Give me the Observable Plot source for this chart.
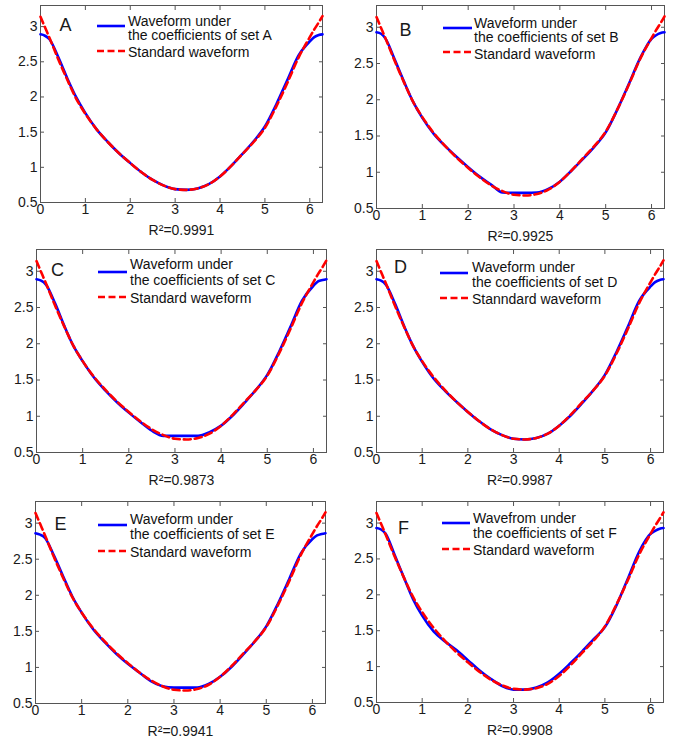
<!DOCTYPE html>
<html><head><meta charset="utf-8">
<script src="https://cdn.jsdelivr.net/npm/d3@7"></script>
<script src="https://cdn.jsdelivr.net/npm/@observablehq/plot@0.6"></script>
<style>
body{margin:0;background:#fff;font-family:"Liberation Sans",Arial,sans-serif;}
#root{position:relative;width:681px;height:745px;overflow:hidden;background:#fff;}
.panel{position:absolute;}
.lt{position:absolute;font-size:14px;line-height:12px;height:12px;color:#111;white-space:nowrap;}
.sw{position:absolute;overflow:visible;}
</style></head><body><div id="root"></div>
<script>
// ---- data ----
const xValues = [0, 0.1, 0.2, 0.4, 0.6, 0.8, 1.0, 1.25, 1.5, 1.75, 2.0, 2.25, 2.5, 2.75, 3.0, 3.25, 3.5, 3.75, 4.0, 4.25, 4.5, 4.75, 5.0, 5.25, 5.5, 5.75, 6.0, 6.1, 6.2, 6.283];
const standardWave = [3.14, 2.99, 2.84, 2.53, 2.24, 1.97, 1.76, 1.54, 1.36, 1.20, 1.06, 0.93, 0.82, 0.74, 0.69, 0.68, 0.70, 0.76, 0.87, 1.02, 1.19, 1.36, 1.56, 1.86, 2.20, 2.56, 2.85, 2.96, 3.06, 3.15];
const waveA = [2.89, 2.87, 2.82, 2.56, 2.26, 1.99, 1.77, 1.54, 1.36, 1.20, 1.06, 0.93, 0.82, 0.74, 0.69, 0.68, 0.70, 0.76, 0.87, 1.02, 1.19, 1.37, 1.58, 1.89, 2.24, 2.59, 2.79, 2.85, 2.88, 2.89];
const waveB = [2.93, 2.91, 2.84, 2.55, 2.25, 1.97, 1.75, 1.53, 1.36, 1.21, 1.07, 0.94, 0.83, 0.72, 0.715, 0.715, 0.72, 0.77, 0.87, 1.02, 1.18, 1.35, 1.55, 1.86, 2.21, 2.57, 2.84, 2.89, 2.92, 2.93];
const waveC = [2.89, 2.87, 2.82, 2.56, 2.25, 1.97, 1.76, 1.53, 1.35, 1.19, 1.05, 0.92, 0.80, 0.73, 0.73, 0.73, 0.73, 0.78, 0.87, 1.01, 1.18, 1.36, 1.57, 1.88, 2.23, 2.59, 2.80, 2.86, 2.88, 2.89];
const waveD = [2.89, 2.87, 2.82, 2.56, 2.25, 1.97, 1.75, 1.52, 1.35, 1.20, 1.06, 0.93, 0.82, 0.74, 0.69, 0.68, 0.70, 0.76, 0.87, 1.01, 1.18, 1.36, 1.57, 1.88, 2.23, 2.59, 2.79, 2.85, 2.88, 2.89];
const waveE = [2.86, 2.84, 2.80, 2.55, 2.26, 1.98, 1.76, 1.53, 1.35, 1.19, 1.05, 0.93, 0.81, 0.74, 0.72, 0.72, 0.72, 0.77, 0.87, 1.01, 1.18, 1.36, 1.57, 1.88, 2.23, 2.58, 2.78, 2.83, 2.85, 2.86];
const waveF = [2.93, 2.91, 2.85, 2.55, 2.24, 1.94, 1.71, 1.49, 1.35, 1.23, 1.09, 0.95, 0.83, 0.73, 0.68, 0.68, 0.71, 0.78, 0.90, 1.05, 1.21, 1.38, 1.55, 1.85, 2.22, 2.60, 2.85, 2.89, 2.92, 2.93];
const panelLetters = ["A", "B", "C", "D", "E", "F"];
const legendLine1 = ["Waveform under", "Waveform under", "Waveform under", "Waveform under", "Waveform under", "Wavefrom under"];
const legendLine2 = ["the coefficients of set A", "the coefficients of set B", "the coefficients of set C", "the coefficients of set D", "the coefficients of set E", "the coefficients of set F"];
const legendLine3 = ["Standard waveform", "Standard waveform", "Standard waveform", "Stanndard waveform", "Standard waveform", "Standard waveform"];
const r2Values = ["0.9991", "0.9925", "0.9873", "0.9987", "0.9941", "0.9908"];
const xTicks = [0, 1, 2, 3, 4, 5, 6];
const yTicks = [0.5, 1, 1.5, 2, 2.5, 3];
const waves = [waveA, waveB, waveC, waveD, waveE, waveF];

// ---- layout (pixels) ----
const layout = [
  {fx: 40, fy: 5, fw: 282, fh: 197, lx: 25, ly: 20, s1: 57, s2: 85, by: 21, ry: 45.7, tx: 88, t: [15.5, 30.2, 47.3]},
  {fx: 376, fy: 5, fw: 288, fh: 203, lx: 29, ly: 25, s1: 67, s2: 96, by: 23.3, ry: 47.3, tx: 98, t: [17.7, 32.3, 49]},
  {fx: 36, fy: 249, fw: 290, fh: 203, lx: 21, ly: 20.3, s1: 62, s2: 91, by: 22.7, ry: 47.7, tx: 94, t: [15.3, 31, 48.7]},
  {fx: 376, fy: 249, fw: 287, fh: 203, lx: 24, ly: 18, s1: 64, s2: 92, by: 23.7, ry: 49.3, tx: 96, t: [17.7, 32.7, 50.3]},
  {fx: 35, fy: 501, fw: 290, fh: 202, lx: 25, ly: 22.3, s1: 63, s2: 92, by: 24, ry: 49.7, tx: 95, t: [18.3, 33.3, 50.7]},
  {fx: 376, fy: 501, fw: 287, fh: 201, lx: 27, ly: 27, s1: 66, s2: 94, by: 22.3, ry: 48, tx: 97, t: [16.7, 32.3, 49]}
];
const mL = 38, mR = 10, mT = 6, mB = 42;
const FONT = "'Liberation Sans', Arial, sans-serif";
const root = document.getElementById("root");
const stdRows = xValues.map((x, i) => ({x, y: standardWave[i]}));

layout.forEach((L, k) => {
  const rows = xValues.map((x, i) => ({x, y: waves[k][i]}));
  const chart = Plot.plot({
    width: L.fw + mL + mR, height: L.fh + mT + mB,
    marginLeft: mL, marginRight: mR, marginTop: mT, marginBottom: mB,
    x: {domain: [0, 2 * Math.PI]},
    y: {domain: [0.5, 3.3]},
    style: {fontFamily: FONT, fontSize: "14px", color: "#1a1a1a", background: "transparent", overflow: "visible"},
    marks: [
      Plot.axisX({ticks: xTicks, tickSize: -4, tickPadding: 6, label: null, stroke: "#555", tickFormat: d => String(d)}),
      Plot.axisX({anchor: "top", ticks: xTicks, tickSize: -4, tickFormat: () => "", label: null, stroke: "#555"}),
      Plot.axisY({ticks: yTicks, tickSize: -4, tickPadding: 7, label: null, stroke: "#555", tickFormat: d => String(d)}),
      Plot.axisY({anchor: "right", ticks: yTicks, tickSize: -4, tickFormat: () => "", label: null, stroke: "#555"}),
      Plot.frame({stroke: "#555", strokeWidth: 1}),
      Plot.line(rows, {x: "x", y: "y", stroke: "#0000ff", strokeWidth: 2.6, curve: "monotone-x"}),
      Plot.line(stdRows, {x: "x", y: "y", stroke: "#ff0000", strokeWidth: 2.6, strokeDasharray: "7,4", curve: "monotone-x"}),
      Plot.text([panelLetters[k]], {text: d => d, frameAnchor: "top-left", dx: L.lx, dy: L.ly, textAnchor: "middle", lineAnchor: "middle", fontSize: 18, fill: "#1a1a1a"}),
      Plot.text([`R²=${r2Values[k]}`], {text: d => d, frameAnchor: "bottom", dy: 28, lineAnchor: "middle", fontSize: 14, fill: "#1a1a1a"})
    ]
  });
  const div = document.createElement("div");
  div.className = "panel";
  div.style.left = (L.fx - mL) + "px";
  div.style.top = (L.fy - mT) + "px";
  div.appendChild(chart);
  // legend overlay
  const ox = mL, oy = mT;
  const sw = (y, color, dash) => {
    const w = L.s2 - L.s1;
    return `<svg class="sw" width="${w}" height="6" style="left:${ox + L.s1}px;top:${oy + y - 3}px"><line x1="0" x2="${w}" y1="3" y2="3" stroke="${color}" stroke-width="2.6" ${dash ? `stroke-dasharray="${dash}"` : ""}/></svg>`;
  };
  const txt = (y, s) => `<div class="lt" style="left:${ox + L.tx}px;top:${oy + y - 6}px">${s}</div>`;
  div.insertAdjacentHTML("beforeend",
    sw(L.by, "#0000ff", null) + sw(L.ry, "#ff0000", "7,3.5") +
    txt(L.t[0], legendLine1[k]) + txt(L.t[1], legendLine2[k]) + txt(L.t[2], legendLine3[k]));
  root.appendChild(div);
});
</script>
</body></html>
